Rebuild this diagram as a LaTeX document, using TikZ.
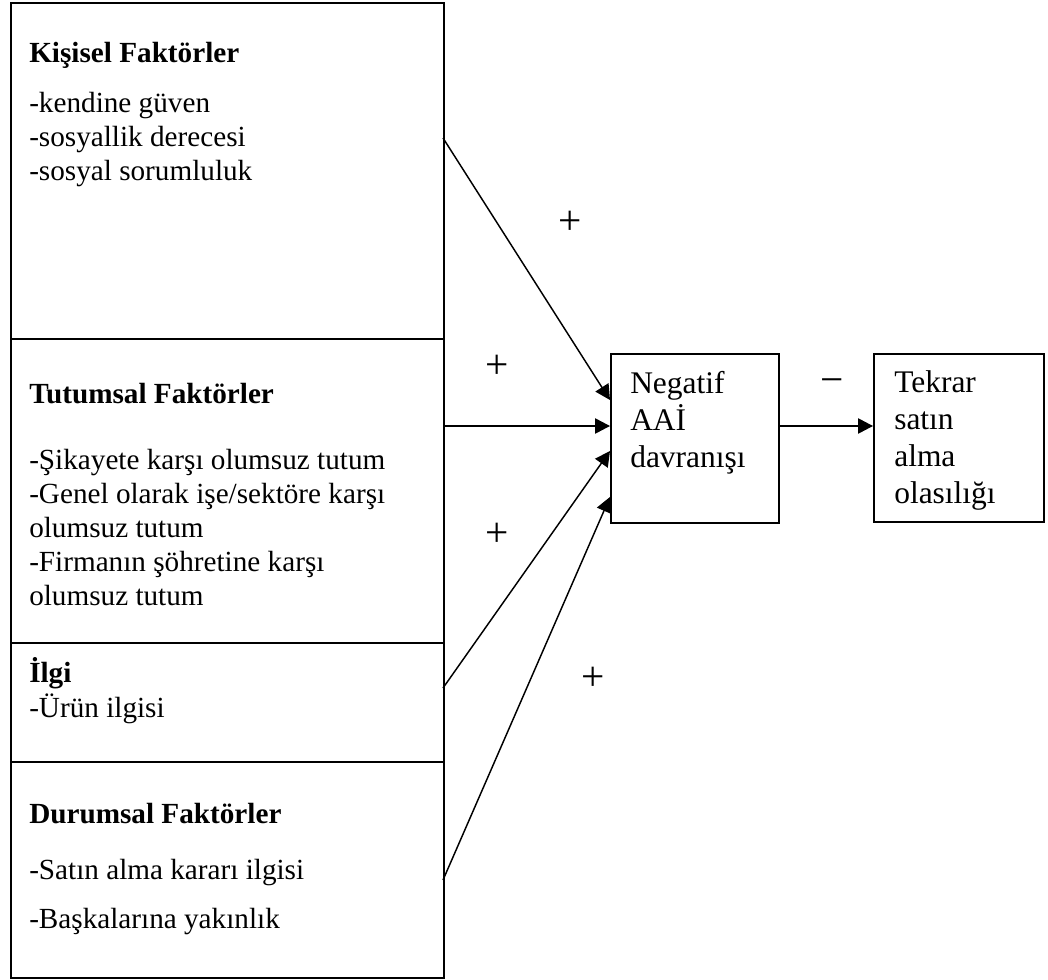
\documentclass[tikz,border=0pt]{standalone}
\usepackage{fontspec}
\setmainfont{Liberation Serif}
\usetikzlibrary{arrows.meta}
\begin{document}
\begin{tikzpicture}[x=0.75pt,y=-0.75pt,
  panel/.style={draw, line width=1.4pt, anchor=north west, inner sep=0pt, minimum width=324.75pt},
  stagebox/.style={draw, line width=1.4pt, anchor=north west, inner sep=0pt},
  head/.style={anchor=base west, inner sep=0pt, font=\fontsize{21.9}{25.5}\selectfont\bfseries},
  % multi-line texts are placed by the baseline of their last line
  items/.style={anchor=base west, inner sep=0pt, align=left, font=\fontsize{21.9}{25.5}\selectfont},
  stagetext/.style={anchor=base west, inner sep=0pt, align=left, font=\fontsize{23.6}{27.75}\selectfont},
  link/.style={line width=1.1pt, -{Triangle[length=11.25pt,width=11.5pt]}},
  sign/.style={anchor=base, inner sep=0pt, font=\fontsize{31}{31}\selectfont},
]
\useasboundingbox (0,0) rectangle (1048,980);

% factor panels on the left
\node[panel, minimum height=252pt]   (kisisel)  at (10,2)   {};
\node[panel, minimum height=228pt]   (tutumsal) at (10,338) {};
\node[panel, minimum height=89.25pt] (ilgi)     at (10,642) {};
\node[panel, minimum height=162pt]   (durumsal) at (10,761) {};

\node[head]  (kisisel-h)  at (29,63)  {Kişisel Faktörler};
\node[items] (kisisel-i)  at (29,181) {-kendine güven\\-sosyallik derecesi\\-sosyal sorumluluk};

\node[head]  (tutumsal-h) at (29,403) {Tutumsal Faktörler};
\node[items] (tutumsal-i) at (29,605) {-Şikayete karşı olumsuz tutum\\-Genel olarak işe/sektöre karşı\\olumsuz tutum\\-Firmanın şöhretine karşı\\olumsuz tutum};

\node[head]  (ilgi-h)     at (29,682) {İlgi};
\node[items] (ilgi-i)     at (29,717) {-Ürün ilgisi};

\node[head]  (durumsal-h) at (29,823) {Durumsal Faktörler};
\node[items] (durumsal-i) at (29,928) {-Satın alma kararı ilgisi\\[11.25pt]-Başkalarına yakınlık};

% behaviour and outcome boxes
\node[stagebox, minimum width=126pt, minimum height=126.75pt] (neg) at (610,353) {};
\node[stagetext] (neg-t) at (630,467) {Negatif\\AAİ\\davranışı};

\node[stagebox, minimum width=127.5pt, minimum height=126pt] (tek) at (873,353) {};
\node[stagetext] (tek-t) at (894,503) {Tekrar\\satın\\alma\\olasılığı};

% connector end points on the box edges
\coordinate (k-out) at (443,138);
\coordinate (t-out) at (443,426);
\coordinate (i-out) at (443,688);
\coordinate (d-out) at (443,880);
\coordinate (n-in1) at (610,400);
\coordinate (n-in2) at (610,426);
\coordinate (n-in3) at (610,451);
\coordinate (n-in4) at (610,497);
\coordinate (n-out) at (778,426);
\coordinate (t-in)  at (873,426);

\draw[link] (k-out) -- (n-in1);
\draw[link] (t-out) -- (n-in2);
\draw[link] (i-out) -- (n-in3);
\draw[link] (d-out) -- (n-in4);
\draw[link] (n-out) -- (t-in);

% effect signs
\node[sign] (s1) at (570,234.5) {+};
\node[sign] (s2) at (497,378.5) {+};
\node[sign] (s3) at (497,546.5) {+};
\node[sign] (s4) at (593,690.5) {+};
\node[sign] (s5) at (832,393.5) {−};
\end{tikzpicture}
\end{document}
